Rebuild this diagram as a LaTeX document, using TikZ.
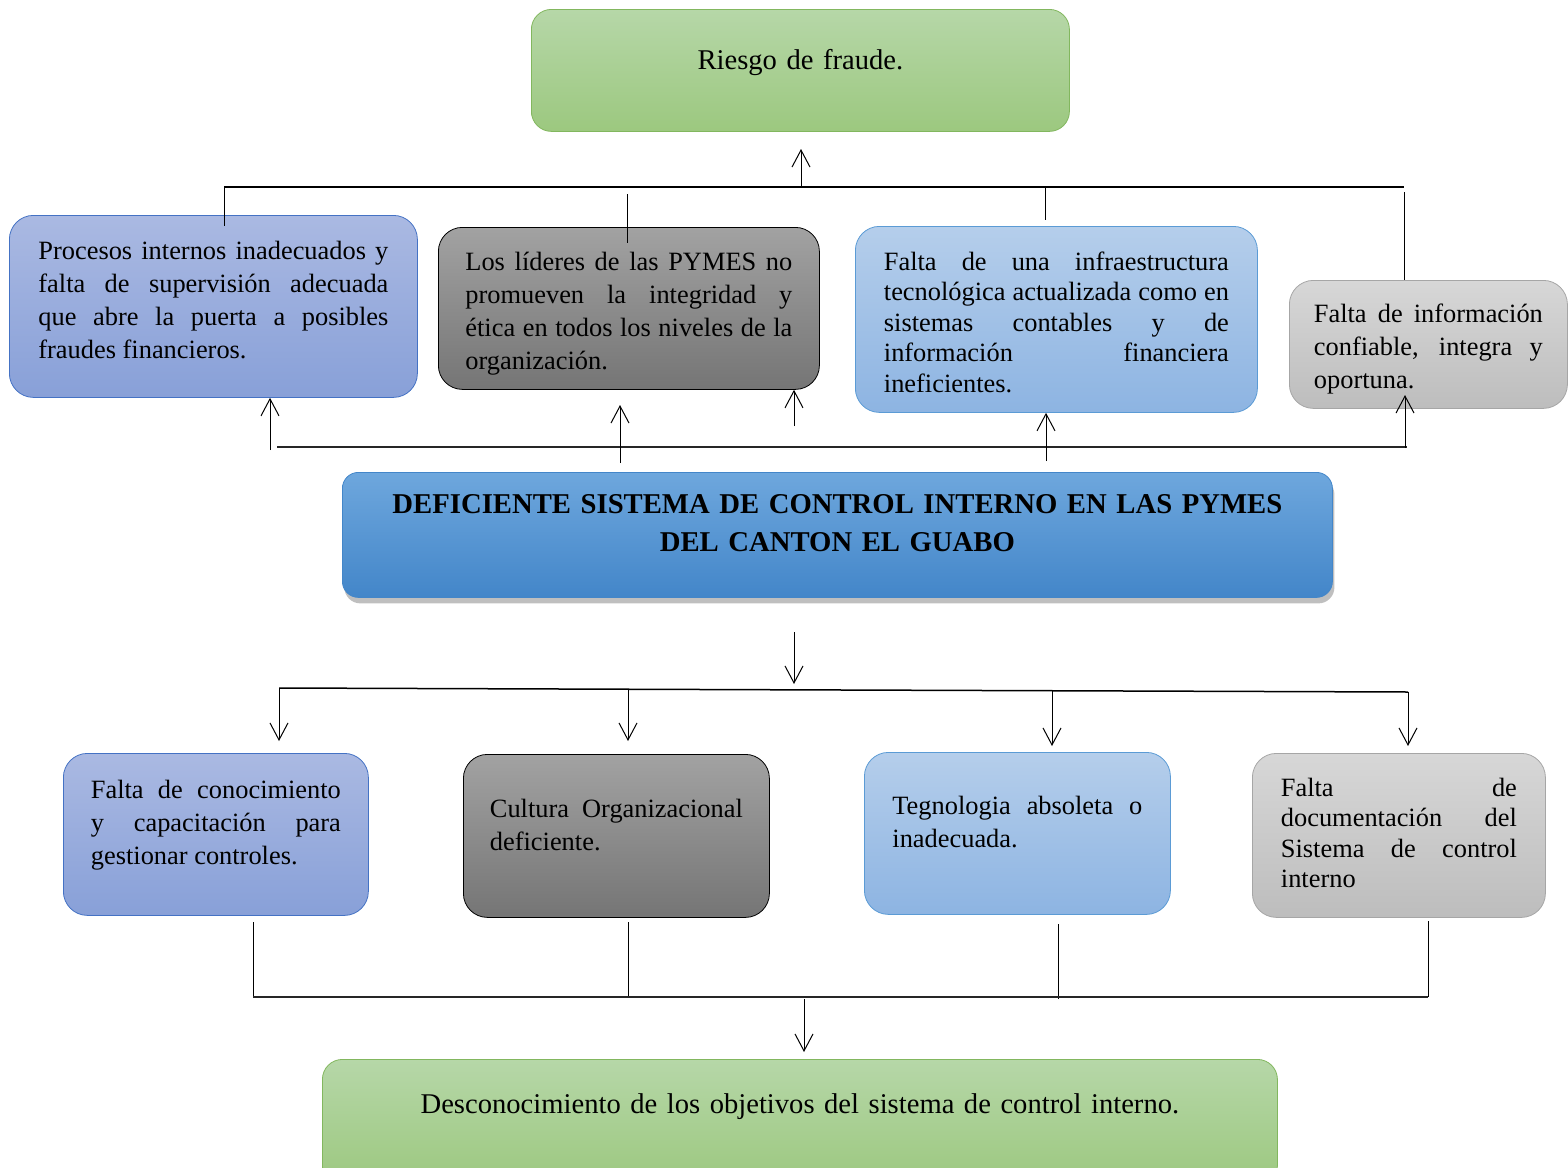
\documentclass[tikz,border=0pt]{standalone}
\usepackage{fontspec}
\setmainfont{Liberation Serif}
\usetikzlibrary{arrows.meta,shadows}

%% fills: top / bottom colour of each box kind, and its border
\definecolor{grtop}{HTML}{B6D7A8}
\definecolor{grbot}{HTML}{9CC87F}
\definecolor{grline}{HTML}{82B75E}
\definecolor{pbtop}{HTML}{AAB9E2}
\definecolor{pbbot}{HTML}{88A0D8}
\definecolor{pbline}{HTML}{4472C4}
\definecolor{dgtop}{HTML}{A2A2A2}
\definecolor{dgbot}{HTML}{757575}
\definecolor{lbtop}{HTML}{B5CEEB}
\definecolor{lbbot}{HTML}{8DB4E2}
\definecolor{lbline}{HTML}{5B9BD5}
\definecolor{lgtop}{HTML}{D7D7D7}
\definecolor{lgbot}{HTML}{BDBDBD}
\definecolor{lgline}{HTML}{A6A6A6}
\definecolor{tttop}{HTML}{6EA7DD}
\definecolor{ttbot}{HTML}{4386C9}

%% box text: 13.2pt, no hyphens, optional line distance
\newcommand\cardfont[1][16.5]{\fontsize{13.2}{#1}\selectfont
  \hyphenpenalty 10000 \tolerance 9999 \relax}

\tikzset{
  box/.style={draw, anchor=north west, inner ysep=0pt, rounded corners=12pt,
    align=justify, font={\cardfont}},
  greenbox/.style={box, draw=grline, top color=grtop, bottom color=grbot,
    rounded corners=10pt, align=center, font={\fontsize{14.3}{18}\selectfont}},
  purplebox/.style={box, draw=pbline, top color=pbtop, bottom color=pbbot},
  darkbox/.style={box, draw=black, top color=dgtop, bottom color=dgbot},
  bluebox/.style={box, draw=lbline, top color=lbtop, bottom color=lbbot},
  greybox/.style={box, draw=lgline, top color=lgtop, bottom color=lgbot},
  titlebox/.style={box, draw=ttbot, top color=tttop, bottom color=ttbot,
    rounded corners=8pt, align=center,
    drop shadow={shadow xshift=1pt,shadow yshift=-3pt,fill=black!50,opacity=.5},
    font={\fontsize{14.35}{19}\selectfont\bfseries}},
  link/.style={line width=0.5pt},
  bar/.style={line width=1pt, black!85},
  arr/.style={line width=0.5pt, -{Straight Barb[length=8.5pt,width=9pt]}},
}

\begin{document}
\begin{tikzpicture}[x=0.5pt,y=-0.5pt]
  \useasboundingbox (0,0) rectangle (1568,1167);
  \clip (0,0) rectangle (1568,1167);

  %% effect on top
  \node[greenbox, text width=249pt, inner xsep=10pt, text height=30pt, text depth=31pt]
    (riesgo) at (531,9) {Riesgo de fraude.};

  %% causes row
  \node[purplebox, text width=175pt, inner xsep=14.5pt, text height=22pt, text depth=69pt]
    (proc) at (9,215) {Procesos internos inadecuados y\linebreak falta de supervisión adecuada\linebreak que abre la puerta a posibles\linebreak fraudes financieros.};
  \node[darkbox, text width=163.5pt, inner xsep=13.5pt, text height=21.5pt, text depth=59.5pt]
    (lider) at (438,227) {Los líderes de las PYMES no\linebreak promueven la integridad y\linebreak ética en todos los niveles de la\linebreak organización.};
  \node[bluebox, text width=172.5pt, inner xsep=14.25pt, text height=22pt, text depth=71pt,
    font={\cardfont[15.25]}]
    (infra) at (855,226) {Falta de una infraestructura\linebreak tecnológica actualizada como en\linebreak sistemas contables y de\linebreak información financiera\linebreak ineficientes.};
  \node[greybox, text width=114.5pt, inner xsep=12.25pt, text height=21pt, text depth=43pt]
    (info) at (1289,280) {Falta de información\linebreak confiable, integra y\linebreak oportuna.};

  %% central problem
  \node[titlebox, text width=475pt, inner xsep=10pt, text height=20.5pt, text depth=42pt]
    (problema) at (342,472) {DEFICIENTE SISTEMA DE CONTROL INTERNO EN LAS PYMES\\DEL CANTON EL GUABO};

  %% consequences row
  \node[purplebox, text width=125pt, inner xsep=13.75pt, text height=22.5pt, text depth=58.5pt]
    (conoc) at (63,753) {Falta de conocimiento\linebreak y capacitación para\linebreak gestionar controles.};
  \node[darkbox, text width=126.5pt, inner xsep=13.25pt, text height=31.5pt, text depth=50pt]
    (cultura) at (463,754) {Cultura Organizacional\linebreak deficiente.};
  \node[bluebox, text width=125pt, inner xsep=14pt, text height=31pt, text depth=50pt]
    (tecno) at (864,752) {Tegnologia absoleta o\linebreak inadecuada.};
  \node[greybox, text width=118pt, inner xsep=14.25pt, text height=21.5pt, text depth=60.5pt,
    font={\cardfont[15.15]}]
    (docum) at (1252,753) {Falta de\linebreak documentación del\linebreak Sistema de control\linebreak interno};

  %% effect at the bottom
  \node[greenbox, text width=457.5pt, inner xsep=10pt, text height=27pt, text depth=36pt]
    (descon) at (322,1059) {Desconocimiento de los objetivos del sistema de control interno.};

  %% upper tree to Riesgo de fraude
  \foreach \n/\x/\a/\b in {1/224/187/226, 2/627/194/243, 3/1045/188/220, 4/1404/192/280}{
    \coordinate (u\n-a) at (\x,\a);
    \coordinate (u\n-b) at (\x,\b);
    \draw[link] (u\n-a) -- (u\n-b);
  }
  \coordinate (ubar) at (1404,187);
  \draw[line width=0.75pt] (u1-a) -- (ubar);
  \coordinate (u0) at (801,187);
  \coordinate (u0-t) at (801,149);
  \draw[arr] (u0) -- (u0-t);

  %% arrows from the problem up to the causes
  \coordinate (mbar-l) at (277,447);
  \coordinate (mbar-r) at (1407,447);
  \draw[bar] (mbar-l) -- (mbar-r);
  \coordinate (m1) at (270,450);
  \draw[arr] (m1) -- (m1 |- proc.south);
  \coordinate (m2) at (620,463);
  \coordinate (m2-t) at (620,405);
  \draw[arr] (m2) -- (m2-t);
  \coordinate (m3) at (794,426);
  \draw[arr] (m3) -- (m3 |- lider.south);
  \coordinate (m4) at (1046,461);
  \draw[arr] (m4) -- (m4 |- infra.south);
  \coordinate (m5) at (1405,448);
  \coordinate (m5-t) at (1405,395);
  \draw[arr] (m5) -- (m5-t);

  %% arrows down to the consequences
  \coordinate (d0) at (794,632);
  \coordinate (d0-t) at (794,684);
  \draw[arr] (d0) -- (d0-t);
  \coordinate (dbar-l) at (279,688);
  \coordinate (dbar-r) at (1408,692);
  \draw[line width=0.75pt] (dbar-l) -- (dbar-r);
  \foreach \n/\x/\a/\b in {1/279/688/741, 2/628/689/741, 3/1052/691/746, 4/1408/692/746}{
    \coordinate (d\n) at (\x,\a);
    \coordinate (d\n-t) at (\x,\b);
    \draw[arr] (d\n) -- (d\n-t);
  }

  %% lower tree to Desconocimiento
  \foreach \n/\x/\a/\b in {1/253/922/997, 2/628/922/997, 3/1058/924/999, 4/1428/921/997}{
    \coordinate (b\n-a) at (\x,\a);
    \coordinate (b\n-b) at (\x,\b);
    \draw[link] (b\n-a) -- (b\n-b);
  }
  \draw[bar] (b1-b) -- (b4-b);
  \coordinate (b0) at (804,999);
  \coordinate (b0-t) at (804,1052);
  \draw[arr] (b0) -- (b0-t);
\end{tikzpicture}
\end{document}
